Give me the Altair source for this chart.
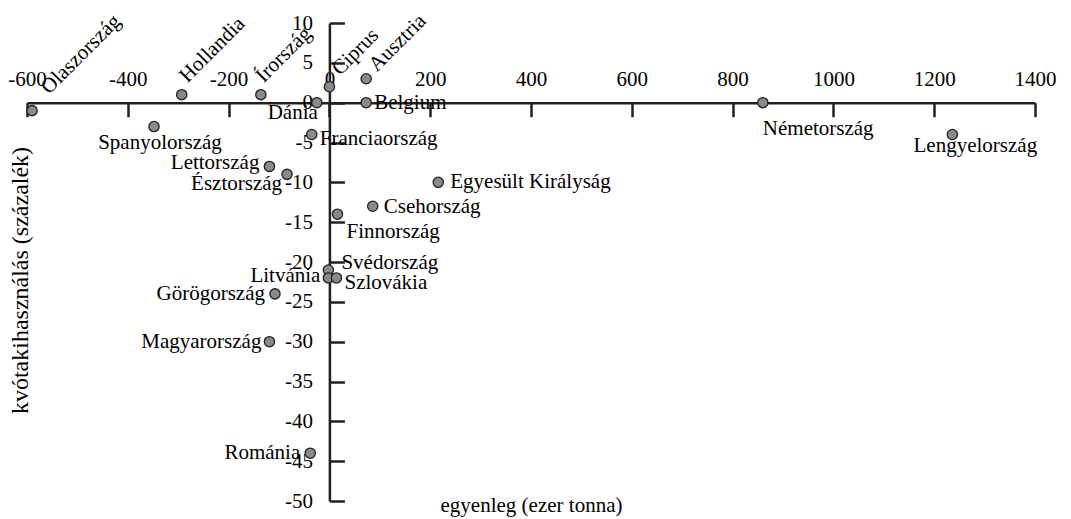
import altair as alt
import pandas as pd

# ---- data ----
countries = ["Olaszország", "Hollandia", "Írország", "Spanyolország", "Dánia",
             "Ciprus", "Ausztria", "Belgium", "Franciaország", "Lettország",
             "Észtország", "Egyesült Királyság", "Csehország", "Finnország",
             "Svédország", "Litvánia", "Szlovákia", "Görögország",
             "Magyarország", "Románia", "Németország", "Lengyelország"]
balance = [-590, -293, -136, -348, -25, 0, 73, 73, -35, -119, -84, 216, 86, 16,
           -2, -2, 14, -108, -119, -38, 860, 1236]          # ezer tonna
usage = [-1, 1, 1, -3, 0, 2, 3, 0, -4, -8, -9, -10, -13, -14, -21, -22, -22,
         -24, -30, -44, 0, -4]                                # százalék
x_ticks = [-600, -400, -200, 0, 200, 400, 600, 800, 1000, 1200, 1400]
y_ticks = [10, 5, 0, -5, -10, -15, -20, -25, -30, -35, -40, -45, -50]
x_title = "egyenleg (ezer tonna)"
y_title = "kvótakihasználás (százalék)"

df = pd.DataFrame({"country": countries, "balance": balance, "usage": usage})

# ---- style ----
FONT = "Liberation Serif"
FS = 21
INK = "#231f20"
W, H = 1008, 478
X0 = W * 600 / 2000      # pixel of x = 0 inside the plot
Y0 = H * 10 / 60         # pixel of y = 0 inside the plot
PLAIN = "'' + datum.value"   # plain hyphen-minus, no thousands separator

PLACE = {
    "Olaszország": dict(align="left", angle=315, dx=23, dy=-5),
    "Hollandia": dict(align="left", angle=315, dx=12, dy=-10),
    "Írország": dict(align="left", angle=315, dx=10, dy=-12),
    "Ciprus": dict(align="left", angle=315, dx=15, dy=-6),
    "Ausztria": dict(align="left", angle=315, dx=12, dy=-3),
    "Spanyolország": dict(align="center", dx=6, dy=16),
    "Dánia": dict(align="right", dx=1, dy=10),
    "Belgium": dict(align="left", dx=8, dy=0),
    "Franciaország": dict(align="left", dx=8, dy=4),
    "Lettország": dict(align="right", dx=-10, dy=-3),
    "Észtország": dict(align="right", dx=-5, dy=10),
    "Egyesült Királyság": dict(align="left", dx=12, dy=0),
    "Csehország": dict(align="left", dx=11, dy=1),
    "Finnország": dict(align="left", dx=9, dy=18),
    "Svédország": dict(align="left", dx=13, dy=-7),
    "Litvánia": dict(align="right", dx=-8, dy=-2),
    "Szlovákia": dict(align="left", dx=8, dy=5),
    "Görögország": dict(align="right", dx=-10, dy=0),
    "Magyarország": dict(align="right", dx=-8, dy=0),
    "Románia": dict(align="right", dx=-10, dy=0),
    "Németország": dict(align="left", dx=0, dy=26),
    "Lengyelország": dict(align="center", dx=23, dy=11),
}

xs = alt.Scale(domain=[-600, 1400], nice=False, zero=False)
ys = alt.Scale(domain=[-50, 10], nice=False, zero=False)

base = alt.Chart(df)

# points + axis lines / ticks + titles
points = base.mark_circle(size=105, color="#8a8a8a", stroke=INK,
                          strokeWidth=1.3, opacity=1).encode(
    x=alt.X("balance:Q", scale=xs, axis=alt.Axis(
        orient="bottom", offset=-(H - Y0), values=x_ticks, labels=False,
        grid=False, tickSize=14, tickWidth=2.5, tickColor=INK,
        domainColor=INK, domainWidth=2.5, title=x_title,
        titleFont=FONT, titleFontSize=FS, titleFontWeight="normal",
        titleColor="black", titleBaseline="alphabetic",
        titleY=(H - Y0) + 10)),
    y=alt.Y("usage:Q", scale=ys, axis=alt.Axis(
        orient="right", offset=-(W - X0), values=y_ticks, labels=False,
        grid=False, tickSize=15, tickWidth=2.5, tickColor=INK,
        domainColor=INK, domainWidth=2.5, title=y_title,
        titleFont=FONT, titleFontSize=24, titleFontWeight="normal",
        titleColor="black", titleAngle=270, titleBaseline="middle",
        titleX=-7 - X0, titleY=257)),
)

# tick labels (on the other side of the axis lines)
labels_axes = base.mark_point(opacity=0).encode(
    x=alt.X("balance:Q", scale=xs, axis=alt.Axis(
        orient="top", offset=-Y0, values=x_ticks, domain=False, ticks=False,
        tickSize=0, grid=False, labelPadding=13, labelFont=FONT,
        labelFontSize=FS, labelColor="black", labelFlush=False,
        labelOverlap=False, labelExpr=PLAIN, title=None)),
    y=alt.Y("usage:Q", scale=ys, axis=alt.Axis(
        orient="left", offset=-X0, values=y_ticks, domain=False, ticks=False,
        tickSize=0, grid=False, labelPadding=17, labelFont=FONT,
        labelFontSize=FS, labelColor="black", labelOverlap=False,
        labelExpr=PLAIN, title=None)),
)

text_layers = []
for c in countries:
    p = PLACE[c]
    text_layers.append(
        base.transform_filter(alt.datum.country == c).mark_text(
            font=FONT, fontSize=FS, color="black", baseline="middle", **p
        ).encode(
            x=alt.X("balance:Q", scale=xs, axis=None),
            y=alt.Y("usage:Q", scale=ys, axis=None),
            text="country:N",
        )
    )

chart = alt.layer(points, labels_axes, *text_layers).resolve_axis(
    x="independent", y="independent"
).properties(
    width=W, height=H,
    autosize=alt.AutoSizeParams(type="none"),
    padding={"left": 19, "top": 15, "right": 28, "bottom": 18},
).configure_view(stroke=None)

chart.save("out.html", embed_options={"renderer": "svg", "actions": False})
